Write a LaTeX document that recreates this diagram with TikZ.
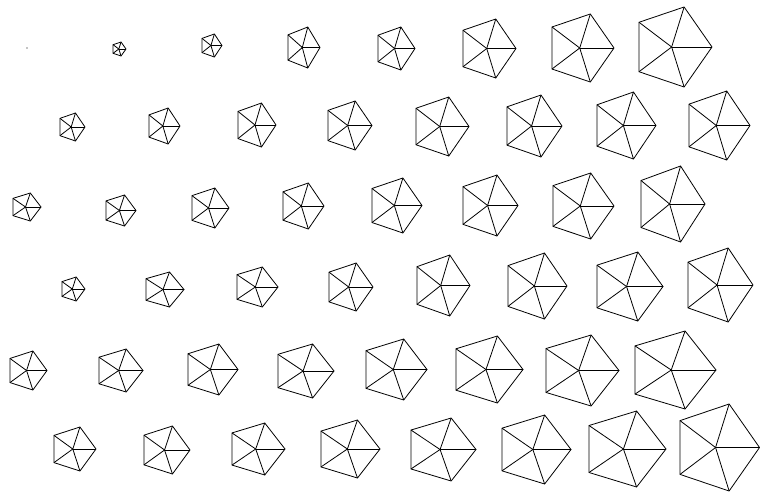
\documentclass[tikz,border=0pt]{standalone}
\tikzset{pentline/.style={draw=black,line width=0.6pt,line join=miter}}
\newcommand\pentagondraw[4]{%
  \pgfmathsetmacro\prx{(#2-#1)/1.809}%
  \pgfmathsetmacro\pry{(#4-#3)/1.902}%
  \pgfmathsetmacro\pcx{#2-\prx}%
  \pgfmathsetmacro\pcy{(#3+#4)/2}%
  \draw[pentline] ({\pcx+\prx},{\pcy})
    -- ({\pcx+\prx*cos(72)},{\pcy+\pry*sin(72)})
    -- ({\pcx+\prx*cos(144)},{\pcy+\pry*sin(144)})
    -- ({\pcx+\prx*cos(216)},{\pcy+\pry*sin(216)})
    -- ({\pcx+\prx*cos(288)},{\pcy+\pry*sin(288)}) -- cycle;
  \foreach \ang in {0,72,144,216,288}{%
    \draw[pentline] (\pcx,\pcy) -- ({\pcx+\prx*cos(\ang)},{\pcy+\pry*sin(\ang)});
  }%
}
\begin{document}
\begin{tikzpicture}[x=0.75pt,y=-0.75pt]
\useasboundingbox (0,0) rectangle (760,493);
\fill[black] (27,48) circle (0.7);
\foreach \xl/\xr/\yt/\yb in {
  113/126/42/56, 202/222/34/57, 288/320/27/68, 378/415/27/70, 463/516/19/78, 552/614/14/82, 639/712/7/87,
  60/85/113/141, 149/180/108/144, 238/276/103/147, 328/372/101/150, 416/469/97/156, 507/562/95/157, 597/656/92/159, 689/750/91/160,
  13/41/193/221, 106/136/195/226, 192/229/188/228, 283/324/183/229, 372/422/178/233, 463/518/175/236, 553/614/173/239, 641/705/166/242,
  62/85/277/301, 146/184/272/307, 237/278/267/307, 329/373/263/311, 417/470/255/316, 508/567/253/319, 597/663/252/321, 688/753/248/322,
  10/47/351/390, 99/143/349/392, 188/238/344/395, 278/334/344/398, 366/427/339/400, 456/523/336/403, 546/619/335/406, 635/716/331/409,
  54/96/427/471, 144/190/426/474, 232/285/423/475, 321/380/420/478, 411/476/418/481, 502/571/415/484, 589/666/411/487, 680/759.5/404/491}
{\pentagondraw{\xl}{\xr}{\yt}{\yb}}
\end{tikzpicture}
\end{document}
